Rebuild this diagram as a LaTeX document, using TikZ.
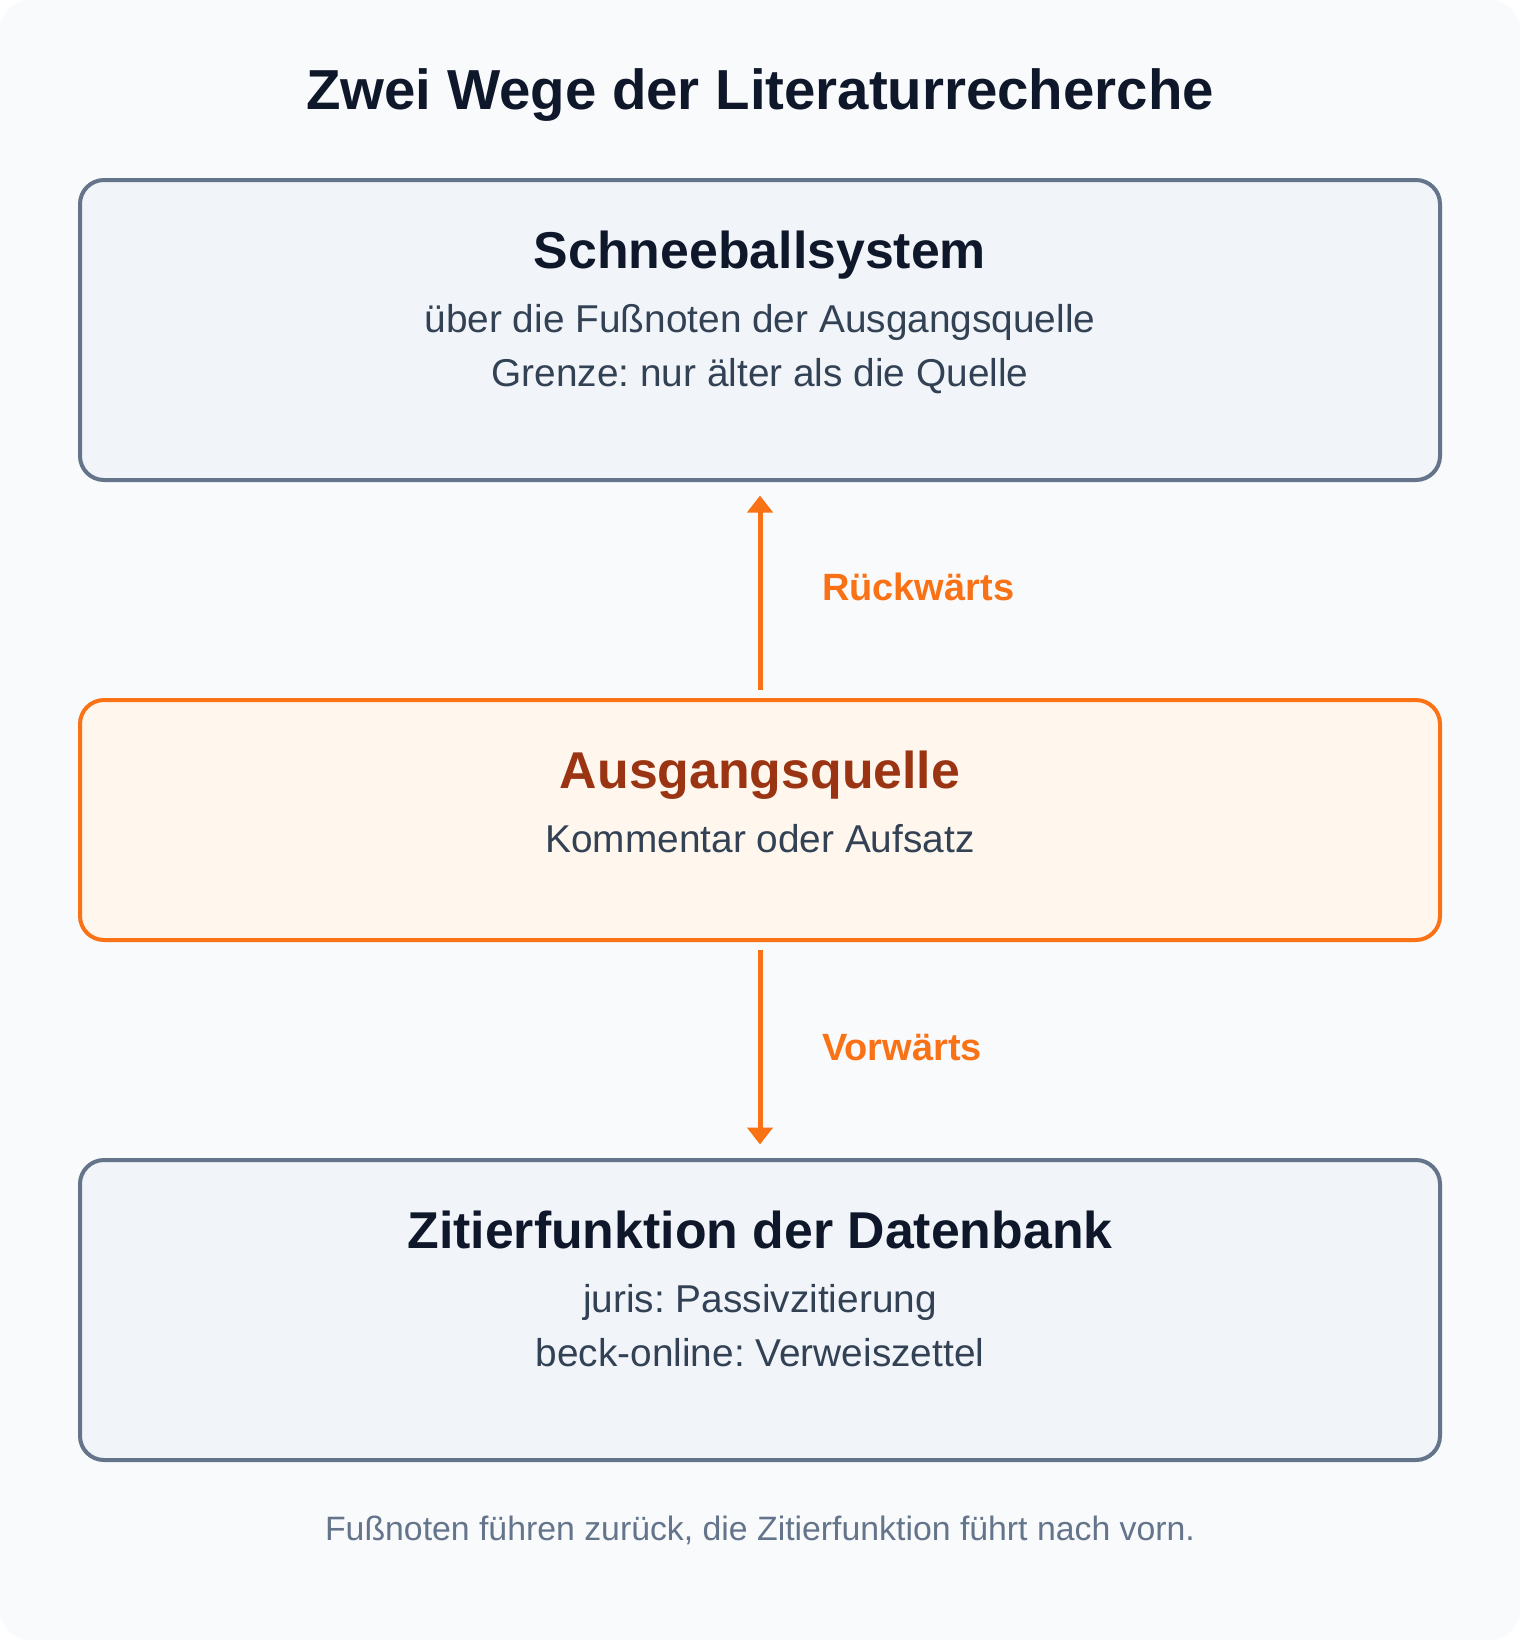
\documentclass[tikz,border=0pt]{standalone}
\usepackage{fontspec}
\setmainfont{Liberation Sans}
\usepackage{tikz}
\usetikzlibrary{arrows.meta}
\frenchspacing

\definecolor{pagebg}{HTML}{F8FAFC}
\definecolor{boxfill}{HTML}{F1F5F9}
\definecolor{boxline}{HTML}{64748B}
\definecolor{ink}{HTML}{0F172A}
\definecolor{subink}{HTML}{334155}
\definecolor{accent}{HTML}{F97316}
\definecolor{srcfill}{HTML}{FFF7ED}
\definecolor{srcink}{HTML}{9A3412}

\begin{document}
\begin{tikzpicture}
            [x=0.5pt,y=-0.5pt,every node/.style={inner sep=0pt, outer sep=0pt},
             box/.style={draw=boxline, fill=boxfill, line width=2pt, rounded corners=12pt, minimum width=680pt},
             srcbox/.style={box, draw=accent, fill=srcfill},
             maintitle/.style={font=\bfseries\fontsize{28.2}{34}\selectfont, text=ink, anchor=base},
             boxtitle/.style={font=\bfseries\fontsize{25.9}{31}\selectfont, text=ink, anchor=base},
             subline/.style={font=\fontsize{19.4}{23}\selectfont, text=subink, anchor=base},
             lbl/.style={font=\bfseries\fontsize{19}{23}\selectfont, text=accent, anchor=base west},
             arr/.style={draw=accent, line width=2.5pt, -{Triangle[width=12.5pt,length=8.5pt]}, shorten <=5pt, shorten >=7.75pt}]
          \useasboundingbox (0,0) rectangle (1520,1640);
          \fill[white] (0,0) rectangle (1520,1640);
          \fill[pagebg, rounded corners=15pt] (0,0) rectangle (1520,1640);

          \node[maintitle] (head) at (760,109) {Zwei Wege der Literaturrecherche};

          \node[box, minimum height=150pt] (snow) at (760,330) {};
          \node[srcbox, minimum height=120pt] (src) at (760,820) {};
          \node[box, minimum height=150pt] (cite) at (760,1310) {};

          \node[boxtitle] (snowt) at (760,268) {Schneeballsystem};
          \node[subline] (snow1) at (760,332) {über die Fußnoten der Ausgangsquelle};
          \node[subline] (snow2) at (760,386) {Grenze: nur älter als die Quelle};

          \node[boxtitle, text=srcink] (srct) at (760,788) {Ausgangsquelle};
          \node[subline] (src1) at (760,852) {Kommentar oder Aufsatz};

          \node[boxtitle] (citet) at (760,1248) {Zitierfunktion der Datenbank};
          \node[subline] (cite1) at (760,1312) {juris: Passivzitierung};
          \node[subline] (cite2) at (760,1366) {beck-online: Verweiszettel};

          \foreach \from/\to in {src/snow, src/cite}
            \draw (\from) edge[arr] (\to);

          \node[lbl] (back) at (822,600) {Rückwärts};
          \node[lbl] (fwd) at (822,1060) {Vorwärts};

          \node[subline, font=\fontsize{16.9}{21}\selectfont, text=boxline] (foot) at (760,1540) {Fußnoten führen zurück, die Zitierfunktion führt nach vorn.};
        \end{tikzpicture}
\end{document}
